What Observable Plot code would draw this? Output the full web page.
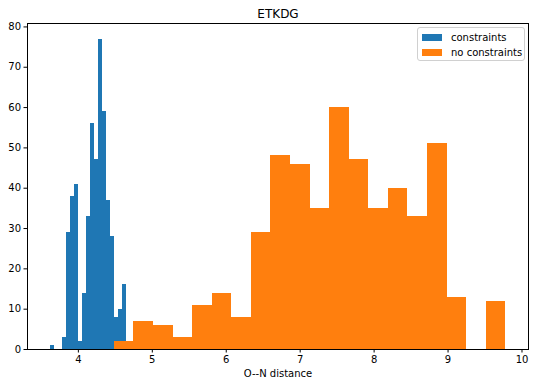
<!DOCTYPE html>
<html>
<head>
<meta charset="utf-8">
<script src="https://cdn.jsdelivr.net/npm/d3@7"></script>
<script src="https://cdn.jsdelivr.net/npm/@observablehq/plot@0.6"></script>
<style>
  html, body { margin: 0; padding: 0; background: #fff; }
  #wrap { position: relative; width: 536px; height: 387px; font-family: "DejaVu Sans", sans-serif; }
  #legend { position: absolute; left: 417px; top: 27px; width: 106px; height: 32px;
    border: 1px solid #d0d0d0; border-radius: 3px; background: rgba(255,255,255,0.8);
    font-size: 10px; color: #000; }
  .row { position: absolute; left: 4px; height: 12px; display: flex; align-items: center; }
  .sw { width: 20px; height: 7px; margin-right: 9px; }
</style>
</head>
<body>
<div id="wrap">
  <div id="chart"></div>
  <div id="legend">
    <div class="row" style="top:3px"><div class="sw" style="background:#1f77b4"></div><span>constraints</span></div>
    <div class="row" style="top:18px"><div class="sw" style="background:#ff7f0e"></div><span>no constraints</span></div>
  </div>
</div>
<script>
// Histogram: constraints (blue)
const blueStart = 3.62;
const blueWidth = 0.0541;
const blueCounts = [1, 0, 0, 3, 29, 38, 41, 2, 14, 33, 56, 47, 77, 59, 37, 28, 8, 10, 16];

// Histogram: no constraints (orange)
const orangeStart = 4.486;
const orangeWidth = 0.2647;
const orangeCounts = [2, 7, 6, 3, 11, 14, 8, 29, 48, 46, 35, 60, 47, 35, 40, 33, 51, 13, 0, 12];

const xTicks = [4, 5, 6, 7, 8, 9, 10];
const yTicks = [0, 10, 20, 30, 40, 50, 60, 70, 80];
const title = "ETKDG";
const xLabel = "O--N distance";

const toBins = (start, w, counts) => counts.map((c, i) => ({x1: start + i * w, x2: start + (i + 1) * w, y: c}));
const blue = toBins(blueStart, blueWidth, blueCounts);
const orange = toBins(orangeStart, orangeWidth, orangeCounts);

const chart = Plot.plot({
  width: 536,
  height: 387,
  marginLeft: 27,
  marginRight: 8,
  marginTop: 23,
  marginBottom: 38,
  style: {fontFamily: "DejaVu Sans, sans-serif", fontSize: "10px", color: "#000", background: "#fff"},
  x: {domain: [3.312, 10.088]},
  y: {domain: [0, 80.85]},
  marks: [
    Plot.rectY(blue, {x1: "x1", x2: "x2", y: "y", fill: "#1f77b4", inset: 0, shapeRendering: "crispEdges"}),
    Plot.rectY(orange, {x1: "x1", x2: "x2", y: "y", fill: "#ff7f0e", inset: 0, shapeRendering: "crispEdges"}),
    Plot.frame({stroke: "#000", strokeWidth: 1}),
    Plot.axisX({ticks: xTicks, tickSize: 3.5, tickPadding: 3, label: null, tickFormat: d => String(d), fontSize: 10}),
    Plot.axisY({ticks: yTicks, tickSize: 3.5, tickPadding: 3, label: null, tickFormat: d => String(d), fontSize: 10}),
    Plot.text([title], {frameAnchor: "top", dy: -14, fontSize: 12}),
    Plot.text([xLabel], {frameAnchor: "bottom", dy: 27, fontSize: 10})
  ]
});
document.getElementById("chart").appendChild(chart);
</script>
</body>
</html>
